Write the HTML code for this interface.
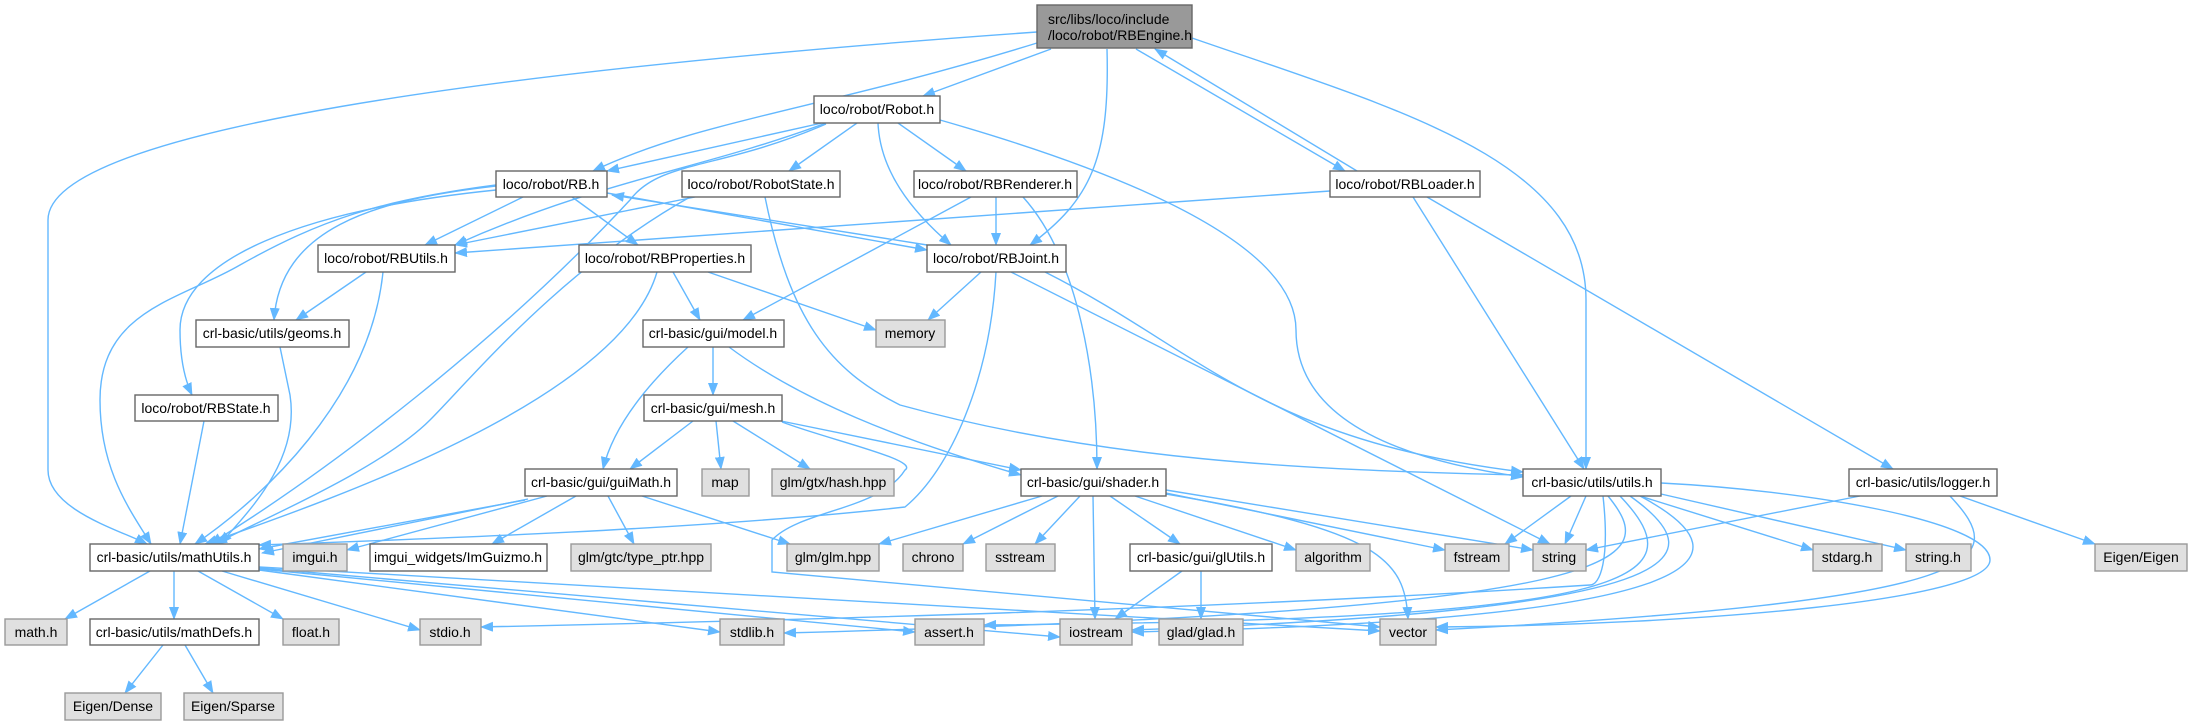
<!DOCTYPE html>
<html><head><meta charset="utf-8"><style>
html,body{margin:0;padding:0;background:#fff;}
svg{display:block;}
text{font-family:"Liberation Sans",Arial,sans-serif;font-size:14px;fill:#000;}
.e{fill:none;stroke:#63b8ff;stroke-width:1.4;marker-end:url(#a);}
.w{fill:#fff;stroke:#666;stroke-width:1.4;}
.g{fill:#e0e0e0;stroke:#999;stroke-width:1.4;}
</style></head><body>
<svg width="2192" height="725" viewBox="0 0 2192 725" xmlns="http://www.w3.org/2000/svg">
<defs><marker id="a" markerUnits="userSpaceOnUse" markerWidth="13" markerHeight="10" refX="12" refY="5" orient="auto"><path d="M0,0 L13,5 L0,10 z" fill="#63b8ff"/></marker></defs>
<g>
<path class="e" d="M1037,32 C500,70 48,130 48,220 L48,470 C48,510 120,530 147,544"/>
<path class="e" d="M1037,43 C820,110 700,120 593,171"/>
<path class="e" d="M1051,49 L923,96"/>
<path class="e" d="M1107,49 C1110,160 1090,200 1030,245"/>
<path class="e" d="M1136,49 L1345,171"/>
<path class="e" d="M1357,171 L1155,49"/>
<path class="e" d="M1192,38 C1400,110 1586,160 1586,300 L1586,469"/>
<path class="e" d="M822,123 L607,171"/>
<path class="e" d="M826,123 C700,170 600,180 455,245"/>
<path class="e" d="M857,123 L789,171"/>
<path class="e" d="M898,123 L966,171"/>
<path class="e" d="M878,123 C880,170 910,210 951,245"/>
<path class="e" d="M940,120 C1150,180 1296,250 1296,330 C1296,420 1400,460 1523,477"/>
<path class="e" d="M826,124 C720,170 660,160 630,200 C500,340 330,470 210,544"/>
<path class="e" d="M523,197 L425,245"/>
<path class="e" d="M572,197 L638,245"/>
<path class="e" d="M607,193 L927,250"/>
<path class="e" d="M927,245 L612,195"/>
<path class="e" d="M496,186 C370,200 280,230 274,320"/>
<path class="e" d="M496,190 C300,210 180,260 180,330 C180,360 185,380 192,395"/>
<path class="e" d="M496,185 C380,200 320,220 240,265 C180,300 100,310 100,400 C100,470 130,510 151,544"/>
<path class="e" d="M695,197 L455,245"/>
<path class="e" d="M690,197 C560,270 470,380 430,420 C380,470 260,520 215,544"/>
<path class="e" d="M765,197 C790,320 830,370 900,405 C1100,460 1300,470 1523,475"/>
<path class="e" d="M971,197 L743,320"/>
<path class="e" d="M996,197 L996,245"/>
<path class="e" d="M1023,197 C1080,260 1097,380 1097,469"/>
<path class="e" d="M366,272 L296,320"/>
<path class="e" d="M383,272 C370,400 260,500 195,544"/>
<path class="e" d="M657,272 C620,400 330,500 205,544"/>
<path class="e" d="M673,272 L700,320"/>
<path class="e" d="M708,272 L876,330"/>
<path class="e" d="M981,272 L928,320"/>
<path class="e" d="M1011,272 L1550,544"/>
<path class="e" d="M1045,272 C1200,350 1260,440 1523,472"/>
<path class="e" d="M996,272 C990,380 950,470 905,507 C700,530 400,540 259,545"/>
<path class="e" d="M1330,191 L455,253"/>
<path class="e" d="M1413,197 L1584,469"/>
<path class="e" d="M1427,197 L1893,469"/>
<path class="e" d="M280,347 L290,395 C300,460 250,510 220,544"/>
<path class="e" d="M713,347 L713,395"/>
<path class="e" d="M688,347 C630,400 610,440 603,469"/>
<path class="e" d="M729,347 C800,400 900,440 1021,475"/>
<path class="e" d="M204,421 L180,544"/>
<path class="e" d="M693,421 L630,469"/>
<path class="e" d="M716,421 L721,469"/>
<path class="e" d="M733,421 L810,469"/>
<path class="e" d="M781,421 L1021,470"/>
<path class="e" d="M782,422 C830,440 920,460 905,470 C880,510 800,510 772,540 L772,572 L1380,627"/>
<path class="e" d="M525,500 L259,549"/>
<path class="e" d="M528,499 L262,553"/>
<path class="e" d="M547,496 L347,550"/>
<path class="e" d="M576,496 L492,544"/>
<path class="e" d="M608,496 L634,544"/>
<path class="e" d="M642,496 L790,544"/>
<path class="e" d="M1042,496 L879,544"/>
<path class="e" d="M1058,496 L963,544"/>
<path class="e" d="M1080,496 L1035,544"/>
<path class="e" d="M1110,496 L1180,544"/>
<path class="e" d="M1135,496 L1296,550"/>
<path class="e" d="M1166,493 L1445,550"/>
<path class="e" d="M1166,490 L1533,550"/>
<path class="e" d="M1093,496 L1095,619"/>
<path class="e" d="M1166,494 C1380,530 1405,560 1408,619"/>
<path class="e" d="M1182,571 L1115,619"/>
<path class="e" d="M1201,571 L1201,619"/>
<path class="e" d="M1571,496 L1505,544"/>
<path class="e" d="M1586,496 L1565,544"/>
<path class="e" d="M1640,496 L1813,550"/>
<path class="e" d="M1661,494 L1906,550"/>
<path class="e" d="M1661,483 C1800,490 1990,520 1990,560 C1990,600 1700,625 1436,627"/>
<path class="e" d="M1630,496 C1720,560 1690,610 1132,630"/>
<path class="e" d="M1640,496 C1760,560 1710,620 1132,632"/>
<path class="e" d="M1608,496 C1660,560 1650,610 784,633"/>
<path class="e" d="M1620,496 C1700,580 1640,620 984,625"/>
<path class="e" d="M1603,496 C1610,560 1600,585 1590,585 C1200,610 800,620 481,627"/>
<path class="e" d="M1860,496 L1586,550"/>
<path class="e" d="M1960,496 L2095,544"/>
<path class="e" d="M1950,496 C2010,560 2000,600 1436,630"/>
<path class="e" d="M150,571 L65,619"/>
<path class="e" d="M174,571 L174,619"/>
<path class="e" d="M198,571 L283,619"/>
<path class="e" d="M222,571 L420,630"/>
<path class="e" d="M259,570 L720,632"/>
<path class="e" d="M259,569 L915,632"/>
<path class="e" d="M259,568 L1060,637"/>
<path class="e" d="M259,567 L1380,631"/>
<path class="e" d="M163,645 L125,693"/>
<path class="e" d="M185,645 L213,693"/>
</g>
<g text-anchor="middle">
<rect x="1037" y="5" width="155" height="43" fill="#999" stroke="#666" stroke-width="1.4"/>
<text x="1048" y="24" text-anchor="start">src/libs/loco/include</text>
<text x="1048" y="40" text-anchor="start">/loco/robot/RBEngine.h</text>

<rect class="w" x="814" y="96" width="126" height="27"/><text x="877" y="114">loco/robot/Robot.h</text>
<rect class="w" x="496" y="171" width="111" height="26"/><text x="551" y="189">loco/robot/RB.h</text>
<rect class="w" x="682" y="171" width="158" height="26"/><text x="761" y="189">loco/robot/RobotState.h</text>
<rect class="w" x="914" y="171" width="163" height="26"/><text x="995" y="189">loco/robot/RBRenderer.h</text>
<rect class="w" x="1330" y="171" width="150" height="26"/><text x="1405" y="189">loco/robot/RBLoader.h</text>
<rect class="w" x="318" y="245" width="137" height="27"/><text x="386" y="263">loco/robot/RBUtils.h</text>
<rect class="w" x="579" y="245" width="172" height="27"/><text x="665" y="263">loco/robot/RBProperties.h</text>
<rect class="w" x="927" y="245" width="139" height="27"/><text x="996" y="263">loco/robot/RBJoint.h</text>
<rect class="w" x="196" y="320" width="153" height="27"/><text x="272" y="338">crl-basic/utils/geoms.h</text>
<rect class="w" x="643" y="320" width="141" height="27"/><text x="713" y="338">crl-basic/gui/model.h</text>
<rect class="g" x="876" y="320" width="69" height="27"/><text x="910" y="338">memory</text>
<rect class="w" x="135" y="395" width="143" height="26"/><text x="206" y="413">loco/robot/RBState.h</text>
<rect class="w" x="644" y="395" width="138" height="26"/><text x="713" y="413">crl-basic/gui/mesh.h</text>
<rect class="w" x="525" y="469" width="152" height="27"/><text x="601" y="487">crl-basic/gui/guiMath.h</text>
<rect class="g" x="702" y="469" width="47" height="27"/><text x="725" y="487">map</text>
<rect class="g" x="772" y="469" width="122" height="27"/><text x="833" y="487">glm/gtx/hash.hpp</text>
<rect class="w" x="1021" y="469" width="145" height="27"/><text x="1093" y="487">crl-basic/gui/shader.h</text>
<rect class="w" x="1523" y="469" width="138" height="27"/><text x="1592" y="487">crl-basic/utils/utils.h</text>
<rect class="w" x="1849" y="469" width="148" height="27"/><text x="1923" y="487">crl-basic/utils/logger.h</text>
<rect class="w" x="90" y="544" width="169" height="27"/><text x="174" y="562">crl-basic/utils/mathUtils.h</text>
<rect class="g" x="283" y="544" width="64" height="27"/><text x="315" y="562">imgui.h</text>
<rect class="w" x="370" y="544" width="177" height="27"/><text x="458" y="562">imgui_widgets/ImGuizmo.h</text>
<rect class="g" x="571" y="544" width="140" height="27"/><text x="641" y="562">glm/gtc/type_ptr.hpp</text>
<rect class="g" x="787" y="544" width="92" height="27"/><text x="833" y="562">glm/glm.hpp</text>
<rect class="g" x="903" y="544" width="60" height="27"/><text x="933" y="562">chrono</text>
<rect class="g" x="986" y="544" width="69" height="27"/><text x="1020" y="562">sstream</text>
<rect class="w" x="1130" y="544" width="142" height="27"/><text x="1201" y="562">crl-basic/gui/glUtils.h</text>
<rect class="g" x="1296" y="544" width="74" height="27"/><text x="1333" y="562">algorithm</text>
<rect class="g" x="1445" y="544" width="64" height="27"/><text x="1477" y="562">fstream</text>
<rect class="g" x="1533" y="544" width="53" height="27"/><text x="1559" y="562">string</text>
<rect class="g" x="1813" y="544" width="69" height="27"/><text x="1847" y="562">stdarg.h</text>
<rect class="g" x="1906" y="544" width="65" height="27"/><text x="1938" y="562">string.h</text>
<rect class="g" x="2095" y="544" width="92" height="27"/><text x="2141" y="562">Eigen/Eigen</text>
<rect class="g" x="5" y="619" width="62" height="26"/><text x="36" y="637">math.h</text>
<rect class="w" x="90" y="619" width="169" height="26"/><text x="174" y="637">crl-basic/utils/mathDefs.h</text>
<rect class="g" x="283" y="619" width="56" height="26"/><text x="311" y="637">float.h</text>
<rect class="g" x="420" y="619" width="61" height="26"/><text x="450" y="637">stdio.h</text>
<rect class="g" x="720" y="619" width="64" height="26"/><text x="752" y="637">stdlib.h</text>
<rect class="g" x="915" y="619" width="69" height="26"/><text x="949" y="637">assert.h</text>
<rect class="g" x="1060" y="619" width="72" height="26"/><text x="1096" y="637">iostream</text>
<rect class="g" x="1159" y="619" width="84" height="26"/><text x="1201" y="637">glad/glad.h</text>
<rect class="g" x="1380" y="619" width="56" height="26"/><text x="1408" y="637">vector</text>
<rect class="g" x="65" y="693" width="96" height="27"/><text x="113" y="711">Eigen/Dense</text>
<rect class="g" x="184" y="693" width="99" height="27"/><text x="233" y="711">Eigen/Sparse</text>
</g>
</svg>
</body></html>
